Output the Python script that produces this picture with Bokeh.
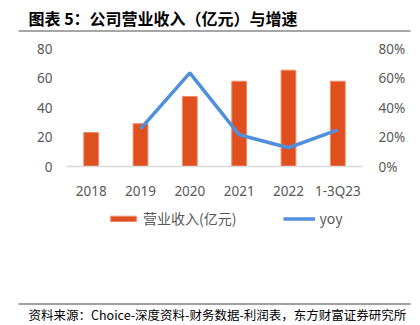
from bokeh.plotting import figure
from bokeh.layouts import column
from bokeh.models import (Range1d, LinearAxis, NumeralTickFormatter, Legend, LegendItem,
                          FixedTicker, ColumnDataSource)
from bokeh.core.properties import value
from bokeh.embed import file_html
from bokeh.resources import INLINE

categories = ["2018", "2019", "2020", "2021", "2022", "1-3Q23"]
revenue = [23, 29, 47.5, 57.8, 65.3, 57.8]
yoy_cats = ["2019", "2020", "2021", "2022", "1-3Q23"]
yoy = [0.255, 0.635, 0.215, 0.127, 0.249]
legend_labels = ["营业收入(亿元)", "yoy"]

title_text = "图表 5：公司营业收入（亿元）与增速"
source_text = "资料来源：Choice-深度资料-财务数据-利润表，东方财富证券研究所"

BAR = "#E0501E"
BAR_EDGE = "#F08A6A"
LINE = "#4F8FDB"
GRAY = "#595959"
FONT = "Noto Sans"
CJK = "Noto Sans CJK SC"
W = 420


def blank_fig(h, yr):
    f = figure(width=W, height=h, x_range=Range1d(0, W), y_range=Range1d(*yr),
               output_backend="svg", toolbar_location=None, frame_align=False,
               min_border=0, min_border_left=0, min_border_right=0,
               min_border_top=0, min_border_bottom=0)
    f.axis.visible = False
    f.grid.visible = False
    f.outline_line_color = None
    f.background_fill_color = "white"
    f.border_fill_color = "white"
    return f


# ---- top: title and rule ----
top = blank_fig(34, (34, 0))
top.text(x=[28], y=[17], text=[title_text], text_font=value(CJK), text_font_size="16px",
         text_font_style="bold", text_color="black", text_baseline="middle")
top.segment(x0=[18], y0=[30.5], x1=[410], y1=[30.5], line_color="#A6A6A6", line_width=2)

# ---- main chart ----
p = figure(width=W, height=168, x_range=categories, y_range=Range1d(0, 80),
           output_backend="svg", toolbar_location=None, frame_align=False,
           min_border_left=66, min_border_right=58, min_border_top=14, min_border_bottom=34)
p.outline_line_color = None
p.xgrid.grid_line_color = None
p.ygrid.grid_line_color = None
p.background_fill_color = "white"
p.border_fill_color = "white"

src = ColumnDataSource(dict(x=categories, top=revenue))
p.vbar(x="x", top="top", width=0.3, source=src, fill_color=BAR, line_color=BAR_EDGE, line_width=1)

p.extra_y_ranges = {"pct": Range1d(0, 0.8)}
ysrc = ColumnDataSource(dict(x=yoy_cats, y=yoy))
p.line(x="x", y="y", source=ysrc, y_range_name="pct", line_color=LINE, line_width=3.5)

ax = p.yaxis[0]
ax.ticker = FixedTicker(ticks=[0, 20, 40, 60, 80])
ax.axis_line_color = None
ax.major_tick_line_color = None
ax.minor_tick_line_color = None
ax.major_label_text_font = FONT
ax.major_label_text_font_size = "13.5px"
ax.major_label_text_color = GRAY
ax.major_label_standoff = 8

rax = LinearAxis(y_range_name="pct", ticker=FixedTicker(ticks=[0, 0.2, 0.4, 0.6, 0.8]),
                 formatter=NumeralTickFormatter(format="0%"))
rax.axis_line_color = None
rax.major_tick_line_color = None
rax.minor_tick_line_color = None
rax.major_label_text_font = FONT
rax.major_label_text_font_size = "13.5px"
rax.major_label_text_color = GRAY
rax.major_label_standoff = 10
p.add_layout(rax, "right")

xa = p.xaxis[0]
xa.axis_line_color = "#D9D9D9"
xa.axis_line_width = 1.5
xa.major_tick_line_color = None
xa.minor_tick_line_color = None
xa.major_label_text_font = FONT
xa.major_label_text_font_size = "13.5px"
xa.major_label_text_color = GRAY
xa.major_label_standoff = 9

# ---- legend row (legend-only renderers lie outside the visible range) ----
lg = blank_fig(32, (0, 32))
r_bar = lg.vbar(x=[-1000], top=[-1000], bottom=[-1001], width=1, fill_color=BAR, line_color=BAR_EDGE)
r_line = lg.line(x=[-1000, -999], y=[-1000, -1000], line_color=LINE, line_width=3.5)
legend = Legend(items=[LegendItem(label=legend_labels[0], renderers=[r_bar]),
                       LegendItem(label=legend_labels[1], renderers=[r_line])],
                orientation="horizontal", location=(107, 6), margin=0, padding=0,
                label_text_font=CJK, label_text_font_size="14px", label_text_color=GRAY,
                glyph_width=32, glyph_height=7, label_height=16, spacing=47, label_standoff=4,
                border_line_color=None, background_fill_alpha=0)
lg.add_layout(legend, "center")

# ---- bottom: rule and source ----
bot = blank_fig(91, (91, 0))
bot.segment(x0=[18], y0=[69.5], x1=[410], y1=[69.5], line_color="#808080", line_width=1.5)
bot.text(x=[28], y=[80], text=[source_text], text_font=value(CJK), text_font_size="12.5px",
         text_color="black", text_baseline="middle")

layout = column(top, p, lg, bot, spacing=0)
open("out.html", "w").write(file_html(layout, INLINE))
